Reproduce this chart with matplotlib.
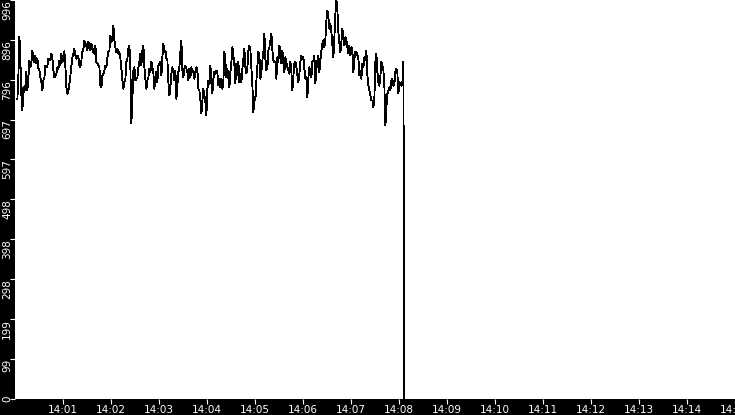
import matplotlib
matplotlib.use("Agg")
import matplotlib.pyplot as plt
import matplotlib.dates as mdates
import numpy as np
import pandas as pd

# samples, roughly one every 1.25 s from 14:00:03
first_part = [749, 807, 905, 845, 757, 720, 778, 766, 782, 816, 770, 803, 845, 828, 841, 870, 845, 841, 857, 837,
              849, 824, 820, 803, 791, 770, 795, 803, 832, 828, 832, 849, 845, 849, 862, 849, 820, 803, 807, 812,
              828, 824, 845, 832, 862, 841, 849, 868, 828, 778, 762, 770, 787, 807, 832, 853, 862, 874, 857, 849,
              857, 853, 832, 828, 845, 866, 874, 895, 882, 887, 870, 891, 887, 870, 887, 878, 866, 862, 882, 841,
              837, 832, 828, 782, 778, 807, 812, 820, 832, 828, 853, 866, 870, 907, 891, 899, 932, 895, 878, 866,
              874, 862, 866, 849, 824, 795, 774, 791, 799, 841, 849, 874, 882, 824, 687, 749, 820, 828, 795, 799,
              803, 828, 841, 862, 832, 870, 882, 828, 799, 774, 795, 803, 824, 816, 841, 828, 812, 774, 803, 816,
              791, 832, 837, 841, 807, 853, 887, 866, 870, 849, 845, 791, 757, 778, 812, 828, 816, 795, 820, 749,
              782, 816, 828, 866, 895, 820, 803, 824, 832, 824, 816, 795, 824, 803, 828, 816, 820, 799, 812, 828,
              820, 774, 770, 745, 712, 745, 774, 757, 741, 707, 774, 795, 787, 832, 787, 762, 799, 816, 812, 820,
              812, 782]
second_part = [799, 778, 799, 774, 795, 866, 841, 803, 824, 799, 778, 816, 841, 878, 857, 832, 787, 837, 807, 841,
               791, 812, 791, 824, 849, 874, 828, 812, 828, 870, 882, 870, 828, 782, 716, 753, 745, 795, 832, 866,
               857, 799, 816, 845, 866, 912, 849, 820, 828, 870, 878, 895, 912, 870, 845, 841, 841, 799, 853, 841,
               882, 866, 837, 870, 837, 816, 853, 841, 828, 820, 812, 841, 816, 770, 807, 837, 841, 828, 807, 791,
               812, 841, 857, 849, 853, 824, 799, 803, 753, 803, 828, 816, 803, 841, 845, 857, 787, 824, 845, 857,
               816, 845, 870, 887, 895, 878, 899, 945, 970, 953, 924, 937, 916, 882, 853, 903, 962, 996, 970, 916,
               887, 866, 891, 924, 899, 882, 903, 895, 878, 862, 882, 857, 878, 870, 816, 849, 866, 866, 857, 849,
               807, 820, 799, 837, 828, 853, 845, 870, 807, 782, 770, 757, 745, 745, 728, 753, 841, 862, 816, 791,
               782, 807, 841, 832, 820, 778, 682, 728, 762, 770, 778, 770, 795, 799, 782, 787, 816, 824, 812, 762,
               791, 787, 782, 791, 841]
final_value = [0]

values = first_part + second_part + final_value
times = pd.date_range("2024-01-01 14:00:03", periods=len(values), freq="1250ms")

x_start = pd.Timestamp("2024-01-01 14:00:00")
x_end = pd.Timestamp("2024-01-01 14:15:00")
x_ticks = pd.date_range("2024-01-01 14:01:00", "2024-01-01 14:15:00", freq="1min")

y_max = max(values)
y_ticks = np.linspace(0, y_max, 11)
y_labels = [str(int(v)) for v in y_ticks]

fig = plt.figure(figsize=(7.35, 4.15), dpi=100, facecolor="black")
ax = fig.add_axes([15 / 735, 16.5 / 415, 720 / 735, 398.5 / 415])
ax.set_facecolor("white")

ax.plot(times, values, color="black", lw=0.6, antialiased=False)

ax.set_xlim(x_start, x_end)
ax.set_ylim(0, y_max)

ax.set_xticks(x_ticks)
ax.xaxis.set_major_formatter(mdates.DateFormatter("%H:%M"))
ax.set_yticks(y_ticks)
ax.set_yticklabels(y_labels, rotation=90, rotation_mode="anchor", ha="right", va="baseline")
ax.get_yticklabels()[0].set_ha("center")

ax.tick_params(axis="both", colors="white", length=3.6, width=0.8, direction="out", labelsize=7.5)
ax.tick_params(axis="x", pad=1)
ax.tick_params(axis="y", pad=0)

for side in ["left", "right", "top", "bottom"]:
    ax.spines[side].set_visible(False)

fig.savefig("out.png", dpi=100, facecolor="black")
